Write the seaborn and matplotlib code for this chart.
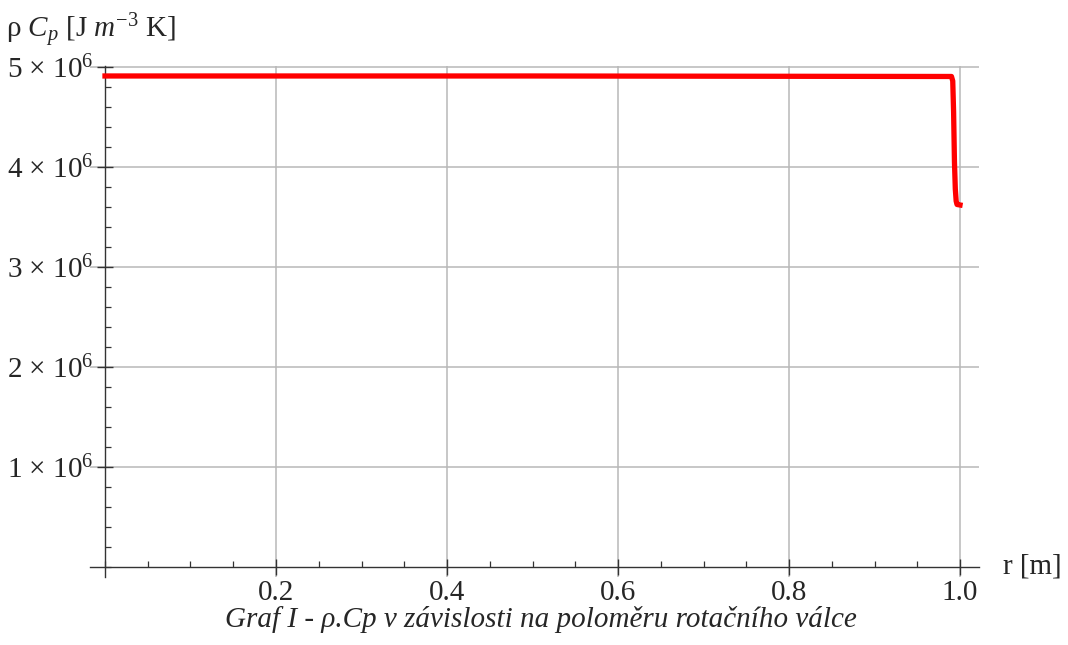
import matplotlib
matplotlib.use("Agg")
import matplotlib.pyplot as plt
import seaborn as sns
import pandas as pd
from matplotlib.ticker import FixedLocator, MultipleLocator, NullFormatter

# ---- data ----
r_values = [0.0, 0.5, 0.990, 0.9915, 0.9925, 0.9935, 0.9945, 0.9955, 0.9965, 1.0]
rho_cp_values = [4.91e6, 4.91e6, 4.905e6, 4.86e6, 4.55e6, 4.05e6, 3.78e6, 3.66e6, 3.625e6, 3.62e6]
x_ticks = [0.2, 0.4, 0.6, 0.8, 1.0]
x_tick_labels = ["0.2", "0.4", "0.6", "0.8", "1.0"]
y_ticks = [1e6, 2e6, 3e6, 4e6, 5e6]
y_tick_labels = [r"1 $\times$ 10$^{6}$", r"2 $\times$ 10$^{6}$", r"3 $\times$ 10$^{6}$",
                 r"4 $\times$ 10$^{6}$", r"5 $\times$ 10$^{6}$"]
y_label = r"ρ $C_p$ [J $m^{-3}$ K]"
x_label = "r [m]"
caption = "Graf I - ρ.Cp v závislosti na poloměru rotačního válce"

df = pd.DataFrame({"r": r_values, "rho_cp": rho_cp_values})

sns.set_theme(style="white")
plt.rcParams["font.family"] = ["Liberation Serif", "DejaVu Serif"]
plt.rcParams["mathtext.fontset"] = "custom"
plt.rcParams["mathtext.rm"] = "Liberation Serif"
plt.rcParams["mathtext.it"] = "Liberation Serif:italic"
plt.rcParams["mathtext.bf"] = "Liberation Serif:bold"

fig = plt.figure(figsize=(10.68, 6.45), dpi=100)
ax = fig.add_axes([0.0839, 0.1054, 0.8326, 0.7923])

sns.lineplot(data=df, x="r", y="rho_cp", ax=ax, color="#ff0000", linewidth=3.8,
             solid_capstyle="projecting", solid_joinstyle="round", zorder=5)

ax.set_xlim(-0.018, 1.022)
ax.set_ylim(-0.1e6, 5.01e6)

ax.spines["top"].set_visible(False)
ax.spines["right"].set_visible(False)
ax.spines["left"].set_position(("data", 0))
ax.spines["bottom"].set_position(("data", 0))
for s in ("left", "bottom"):
    ax.spines[s].set_color("#333333")
    ax.spines[s].set_linewidth(1.0)

ax.xaxis.set_major_locator(FixedLocator(x_ticks))
ax.set_xticklabels(x_tick_labels)
ax.xaxis.set_minor_locator(MultipleLocator(0.05))
ax.yaxis.set_major_locator(FixedLocator(y_ticks))
ax.set_yticklabels(y_tick_labels)
ax.yaxis.set_minor_locator(MultipleLocator(0.2e6))
ax.yaxis.set_minor_formatter(NullFormatter())

ax.tick_params(axis="both", which="major", direction="inout", length=12, width=1.0,
               color="#333333", labelsize=21, pad=3)
ax.tick_params(axis="both", which="minor", direction="in", length=4, width=0.9,
               color="#333333")
ax.tick_params(axis="y", which="major", pad=2)
ax.tick_params(bottom=True, left=True, which="both")

ax.grid(True, which="major", color="#b8b8b8", linewidth=1.1)
ax.set_axisbelow(True)
ax.set_xlabel("")
ax.set_ylabel("")

fig.text(0.006, 0.953, y_label, fontsize=21, ha="left", va="center")
fig.text(0.939, 0.121, x_label, fontsize=21, ha="left", va="center")
fig.text(0.506, 0.039, caption, fontsize=21, style="italic", ha="center", va="center")

fig.savefig("out.png", dpi=100)
